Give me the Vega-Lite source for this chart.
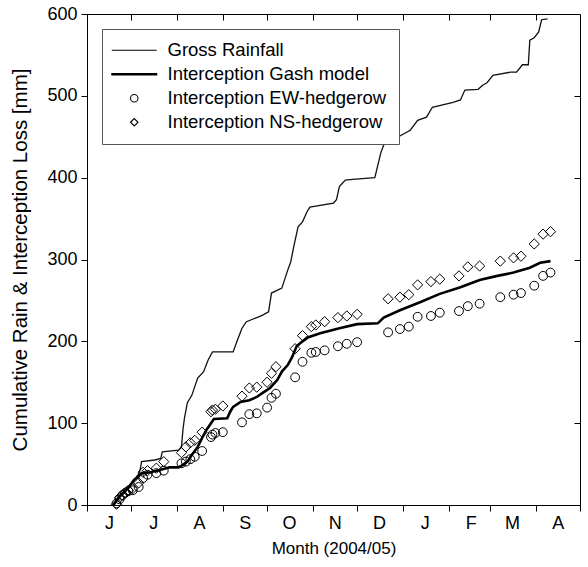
{
  "$schema": "https://vega.github.io/schema/vega-lite/v6.json",
  "width": 493,
  "height": 491,
  "autosize": {"type": "none"},
  "padding": {"left": 87, "top": 14, "right": 8, "bottom": 62},
  "background": "white",
  "data": {"values": [
    {"d":"2004-06-19","s":"Gross Rainfall","v":0},
    {"d":"2004-06-22","s":"Gross Rainfall","v":10},
    {"d":"2004-06-27","s":"Gross Rainfall","v":18},
    {"d":"2004-07-02","s":"Gross Rainfall","v":28},
    {"d":"2004-07-06","s":"Gross Rainfall","v":38},
    {"d":"2004-07-07","s":"Gross Rainfall","v":43},
    {"d":"2004-07-08","s":"Gross Rainfall","v":53},
    {"d":"2004-07-17","s":"Gross Rainfall","v":55},
    {"d":"2004-07-21","s":"Gross Rainfall","v":57},
    {"d":"2004-07-22","s":"Gross Rainfall","v":65},
    {"d":"2004-08-02","s":"Gross Rainfall","v":67},
    {"d":"2004-08-04","s":"Gross Rainfall","v":71},
    {"d":"2004-08-05","s":"Gross Rainfall","v":92},
    {"d":"2004-08-06","s":"Gross Rainfall","v":106},
    {"d":"2004-08-08","s":"Gross Rainfall","v":125},
    {"d":"2004-08-11","s":"Gross Rainfall","v":134},
    {"d":"2004-08-15","s":"Gross Rainfall","v":155},
    {"d":"2004-08-19","s":"Gross Rainfall","v":163},
    {"d":"2004-08-22","s":"Gross Rainfall","v":177},
    {"d":"2004-08-25","s":"Gross Rainfall","v":187},
    {"d":"2004-09-08","s":"Gross Rainfall","v":187},
    {"d":"2004-09-11","s":"Gross Rainfall","v":202},
    {"d":"2004-09-14","s":"Gross Rainfall","v":216},
    {"d":"2004-09-17","s":"Gross Rainfall","v":224},
    {"d":"2004-09-24","s":"Gross Rainfall","v":229},
    {"d":"2004-09-28","s":"Gross Rainfall","v":232},
    {"d":"2004-10-02","s":"Gross Rainfall","v":236},
    {"d":"2004-10-04","s":"Gross Rainfall","v":259},
    {"d":"2004-10-11","s":"Gross Rainfall","v":265},
    {"d":"2004-10-15","s":"Gross Rainfall","v":287},
    {"d":"2004-10-17","s":"Gross Rainfall","v":297},
    {"d":"2004-10-19","s":"Gross Rainfall","v":315},
    {"d":"2004-10-22","s":"Gross Rainfall","v":340},
    {"d":"2004-10-25","s":"Gross Rainfall","v":346},
    {"d":"2004-10-28","s":"Gross Rainfall","v":358},
    {"d":"2004-10-30","s":"Gross Rainfall","v":364},
    {"d":"2004-11-15","s":"Gross Rainfall","v":369},
    {"d":"2004-11-17","s":"Gross Rainfall","v":373},
    {"d":"2004-11-19","s":"Gross Rainfall","v":389},
    {"d":"2004-11-23","s":"Gross Rainfall","v":397},
    {"d":"2004-11-28","s":"Gross Rainfall","v":398},
    {"d":"2004-12-13","s":"Gross Rainfall","v":400},
    {"d":"2004-12-17","s":"Gross Rainfall","v":430},
    {"d":"2004-12-19","s":"Gross Rainfall","v":440},
    {"d":"2004-12-25","s":"Gross Rainfall","v":446},
    {"d":"2005-01-06","s":"Gross Rainfall","v":458},
    {"d":"2005-01-11","s":"Gross Rainfall","v":470},
    {"d":"2005-01-17","s":"Gross Rainfall","v":474},
    {"d":"2005-01-21","s":"Gross Rainfall","v":486},
    {"d":"2005-02-04","s":"Gross Rainfall","v":492},
    {"d":"2005-02-09","s":"Gross Rainfall","v":495},
    {"d":"2005-02-12","s":"Gross Rainfall","v":507},
    {"d":"2005-02-21","s":"Gross Rainfall","v":508},
    {"d":"2005-02-24","s":"Gross Rainfall","v":513},
    {"d":"2005-02-27","s":"Gross Rainfall","v":516},
    {"d":"2005-03-03","s":"Gross Rainfall","v":525},
    {"d":"2005-03-15","s":"Gross Rainfall","v":529},
    {"d":"2005-03-19","s":"Gross Rainfall","v":529},
    {"d":"2005-03-23","s":"Gross Rainfall","v":538},
    {"d":"2005-03-27","s":"Gross Rainfall","v":538},
    {"d":"2005-03-28","s":"Gross Rainfall","v":568},
    {"d":"2005-03-31","s":"Gross Rainfall","v":571},
    {"d":"2005-04-03","s":"Gross Rainfall","v":578},
    {"d":"2005-04-05","s":"Gross Rainfall","v":593},
    {"d":"2005-04-09","s":"Gross Rainfall","v":594},

    {"d":"2004-06-19","s":"Interception Gash model","v":0},
    {"d":"2004-06-23","s":"Interception Gash model","v":10},
    {"d":"2004-06-29","s":"Interception Gash model","v":21},
    {"d":"2004-07-03","s":"Interception Gash model","v":31},
    {"d":"2004-07-06","s":"Interception Gash model","v":35},
    {"d":"2004-07-08","s":"Interception Gash model","v":39},
    {"d":"2004-07-14","s":"Interception Gash model","v":40},
    {"d":"2004-07-21","s":"Interception Gash model","v":43},
    {"d":"2004-07-27","s":"Interception Gash model","v":46},
    {"d":"2004-08-02","s":"Interception Gash model","v":46},
    {"d":"2004-08-05","s":"Interception Gash model","v":49},
    {"d":"2004-08-08","s":"Interception Gash model","v":53},
    {"d":"2004-08-11","s":"Interception Gash model","v":61},
    {"d":"2004-08-15","s":"Interception Gash model","v":71},
    {"d":"2004-08-18","s":"Interception Gash model","v":82},
    {"d":"2004-08-21","s":"Interception Gash model","v":92},
    {"d":"2004-08-24","s":"Interception Gash model","v":100},
    {"d":"2004-08-26","s":"Interception Gash model","v":105},
    {"d":"2004-09-04","s":"Interception Gash model","v":106},
    {"d":"2004-09-06","s":"Interception Gash model","v":114},
    {"d":"2004-09-08","s":"Interception Gash model","v":120},
    {"d":"2004-09-13","s":"Interception Gash model","v":126},
    {"d":"2004-09-19","s":"Interception Gash model","v":128},
    {"d":"2004-09-24","s":"Interception Gash model","v":132},
    {"d":"2004-09-28","s":"Interception Gash model","v":137},
    {"d":"2004-10-03","s":"Interception Gash model","v":143},
    {"d":"2004-10-08","s":"Interception Gash model","v":153},
    {"d":"2004-10-11","s":"Interception Gash model","v":163},
    {"d":"2004-10-15","s":"Interception Gash model","v":171},
    {"d":"2004-10-18","s":"Interception Gash model","v":181},
    {"d":"2004-10-21","s":"Interception Gash model","v":194},
    {"d":"2004-10-25","s":"Interception Gash model","v":200},
    {"d":"2004-10-29","s":"Interception Gash model","v":205},
    {"d":"2004-11-06","s":"Interception Gash model","v":210},
    {"d":"2004-11-19","s":"Interception Gash model","v":216},
    {"d":"2004-12-01","s":"Interception Gash model","v":221},
    {"d":"2004-12-15","s":"Interception Gash model","v":222},
    {"d":"2004-12-19","s":"Interception Gash model","v":229},
    {"d":"2004-12-30","s":"Interception Gash model","v":238},
    {"d":"2005-01-13","s":"Interception Gash model","v":248},
    {"d":"2005-01-26","s":"Interception Gash model","v":258},
    {"d":"2005-02-09","s":"Interception Gash model","v":266},
    {"d":"2005-02-22","s":"Interception Gash model","v":275},
    {"d":"2005-03-06","s":"Interception Gash model","v":280},
    {"d":"2005-03-17","s":"Interception Gash model","v":284},
    {"d":"2005-03-28","s":"Interception Gash model","v":290},
    {"d":"2005-04-04","s":"Interception Gash model","v":296},
    {"d":"2005-04-11","s":"Interception Gash model","v":298},

    {"d":"2004-06-21","s":"Interception EW-hedgerow","v":2},
    {"d":"2004-06-23","s":"Interception EW-hedgerow","v":7},
    {"d":"2004-06-25","s":"Interception EW-hedgerow","v":12},
    {"d":"2004-06-27","s":"Interception EW-hedgerow","v":15},
    {"d":"2004-06-29","s":"Interception EW-hedgerow","v":17},
    {"d":"2004-07-02","s":"Interception EW-hedgerow","v":18},
    {"d":"2004-07-06","s":"Interception EW-hedgerow","v":22},
    {"d":"2004-07-09","s":"Interception EW-hedgerow","v":33},
    {"d":"2004-07-12","s":"Interception EW-hedgerow","v":37},
    {"d":"2004-07-18","s":"Interception EW-hedgerow","v":39},
    {"d":"2004-07-23","s":"Interception EW-hedgerow","v":42},
    {"d":"2004-08-04","s":"Interception EW-hedgerow","v":51},
    {"d":"2004-08-07","s":"Interception EW-hedgerow","v":53},
    {"d":"2004-08-10","s":"Interception EW-hedgerow","v":56},
    {"d":"2004-08-13","s":"Interception EW-hedgerow","v":59},
    {"d":"2004-08-18","s":"Interception EW-hedgerow","v":66},
    {"d":"2004-08-24","s":"Interception EW-hedgerow","v":83},
    {"d":"2004-08-25","s":"Interception EW-hedgerow","v":86},
    {"d":"2004-08-27","s":"Interception EW-hedgerow","v":88},
    {"d":"2004-09-01","s":"Interception EW-hedgerow","v":89},
    {"d":"2004-09-14","s":"Interception EW-hedgerow","v":101},
    {"d":"2004-09-19","s":"Interception EW-hedgerow","v":111},
    {"d":"2004-09-24","s":"Interception EW-hedgerow","v":112},
    {"d":"2004-10-01","s":"Interception EW-hedgerow","v":119},
    {"d":"2004-10-04","s":"Interception EW-hedgerow","v":131},
    {"d":"2004-10-07","s":"Interception EW-hedgerow","v":136},
    {"d":"2004-10-20","s":"Interception EW-hedgerow","v":156},
    {"d":"2004-10-25","s":"Interception EW-hedgerow","v":175},
    {"d":"2004-10-31","s":"Interception EW-hedgerow","v":186},
    {"d":"2004-11-03","s":"Interception EW-hedgerow","v":187},
    {"d":"2004-11-09","s":"Interception EW-hedgerow","v":189},
    {"d":"2004-11-18","s":"Interception EW-hedgerow","v":194},
    {"d":"2004-11-24","s":"Interception EW-hedgerow","v":197},
    {"d":"2004-12-01","s":"Interception EW-hedgerow","v":199},
    {"d":"2004-12-22","s":"Interception EW-hedgerow","v":211},
    {"d":"2004-12-30","s":"Interception EW-hedgerow","v":215},
    {"d":"2005-01-05","s":"Interception EW-hedgerow","v":218},
    {"d":"2005-01-11","s":"Interception EW-hedgerow","v":230},
    {"d":"2005-01-20","s":"Interception EW-hedgerow","v":231},
    {"d":"2005-01-26","s":"Interception EW-hedgerow","v":235},
    {"d":"2005-02-08","s":"Interception EW-hedgerow","v":237},
    {"d":"2005-02-14","s":"Interception EW-hedgerow","v":243},
    {"d":"2005-02-22","s":"Interception EW-hedgerow","v":246},
    {"d":"2005-03-08","s":"Interception EW-hedgerow","v":254},
    {"d":"2005-03-17","s":"Interception EW-hedgerow","v":257},
    {"d":"2005-03-22","s":"Interception EW-hedgerow","v":259},
    {"d":"2005-03-31","s":"Interception EW-hedgerow","v":268},
    {"d":"2005-04-06","s":"Interception EW-hedgerow","v":280},
    {"d":"2005-04-11","s":"Interception EW-hedgerow","v":284},

    {"d":"2004-06-21","s":"Interception NS-hedgerow","v":1},
    {"d":"2004-06-23","s":"Interception NS-hedgerow","v":9},
    {"d":"2004-06-25","s":"Interception NS-hedgerow","v":12},
    {"d":"2004-06-27","s":"Interception NS-hedgerow","v":15},
    {"d":"2004-06-29","s":"Interception NS-hedgerow","v":18},
    {"d":"2004-07-02","s":"Interception NS-hedgerow","v":20},
    {"d":"2004-07-06","s":"Interception NS-hedgerow","v":27},
    {"d":"2004-07-09","s":"Interception NS-hedgerow","v":40},
    {"d":"2004-07-12","s":"Interception NS-hedgerow","v":42},
    {"d":"2004-07-18","s":"Interception NS-hedgerow","v":45},
    {"d":"2004-07-23","s":"Interception NS-hedgerow","v":53},
    {"d":"2004-08-04","s":"Interception NS-hedgerow","v":64},
    {"d":"2004-08-07","s":"Interception NS-hedgerow","v":71},
    {"d":"2004-08-10","s":"Interception NS-hedgerow","v":76},
    {"d":"2004-08-13","s":"Interception NS-hedgerow","v":79},
    {"d":"2004-08-18","s":"Interception NS-hedgerow","v":89},
    {"d":"2004-08-24","s":"Interception NS-hedgerow","v":114},
    {"d":"2004-08-25","s":"Interception NS-hedgerow","v":116},
    {"d":"2004-08-27","s":"Interception NS-hedgerow","v":117},
    {"d":"2004-09-01","s":"Interception NS-hedgerow","v":121},
    {"d":"2004-09-14","s":"Interception NS-hedgerow","v":133},
    {"d":"2004-09-19","s":"Interception NS-hedgerow","v":143},
    {"d":"2004-09-24","s":"Interception NS-hedgerow","v":144},
    {"d":"2004-10-01","s":"Interception NS-hedgerow","v":150},
    {"d":"2004-10-04","s":"Interception NS-hedgerow","v":161},
    {"d":"2004-10-07","s":"Interception NS-hedgerow","v":169},
    {"d":"2004-10-20","s":"Interception NS-hedgerow","v":191},
    {"d":"2004-10-25","s":"Interception NS-hedgerow","v":207},
    {"d":"2004-10-31","s":"Interception NS-hedgerow","v":218},
    {"d":"2004-11-03","s":"Interception NS-hedgerow","v":220},
    {"d":"2004-11-09","s":"Interception NS-hedgerow","v":224},
    {"d":"2004-11-18","s":"Interception NS-hedgerow","v":229},
    {"d":"2004-11-24","s":"Interception NS-hedgerow","v":231},
    {"d":"2004-12-01","s":"Interception NS-hedgerow","v":233},
    {"d":"2004-12-22","s":"Interception NS-hedgerow","v":252},
    {"d":"2004-12-30","s":"Interception NS-hedgerow","v":254},
    {"d":"2005-01-05","s":"Interception NS-hedgerow","v":257},
    {"d":"2005-01-11","s":"Interception NS-hedgerow","v":269},
    {"d":"2005-01-20","s":"Interception NS-hedgerow","v":273},
    {"d":"2005-01-26","s":"Interception NS-hedgerow","v":276},
    {"d":"2005-02-08","s":"Interception NS-hedgerow","v":280},
    {"d":"2005-02-14","s":"Interception NS-hedgerow","v":291},
    {"d":"2005-02-22","s":"Interception NS-hedgerow","v":292},
    {"d":"2005-03-08","s":"Interception NS-hedgerow","v":298},
    {"d":"2005-03-17","s":"Interception NS-hedgerow","v":302},
    {"d":"2005-03-22","s":"Interception NS-hedgerow","v":304},
    {"d":"2005-03-31","s":"Interception NS-hedgerow","v":319},
    {"d":"2005-04-06","s":"Interception NS-hedgerow","v":331},
    {"d":"2005-04-11","s":"Interception NS-hedgerow","v":334}
  ]},
  "layer": [
    {
      "transform": [{"filter": {"field": "s", "equal": "Gross Rainfall"}}],
      "mark": {"type": "line", "color": "#111111", "strokeWidth": 1.3},
      "encoding": {
        "x": {"field": "d", "type": "temporal",
          "scale": {"type": "utc", "domain": [{"year": 2004, "month": 6, "date": 1, "utc": true}, {"year": 2005, "month": 5, "date": 1, "utc": true}]},
          "axis": {"orient": "bottom", "title": "Month (2004/05)", "titleFontSize": 17, "tickSize": 6, "labelPadding": 3, "titlePadding": 8, "labelOffset": 22, "labelFlush": false, "labelOverlap": false, "labelAlign": "center",
            "values": [
              {"year": 2004, "month": 6, "date": 1, "utc": true},
              {"year": 2004, "month": 7, "date": 1, "utc": true},
              {"year": 2004, "month": 8, "date": 1, "utc": true},
              {"year": 2004, "month": 9, "date": 1, "utc": true},
              {"year": 2004, "month": 10, "date": 1, "utc": true},
              {"year": 2004, "month": 11, "date": 1, "utc": true},
              {"year": 2004, "month": 12, "date": 1, "utc": true},
              {"year": 2005, "month": 1, "date": 1, "utc": true},
              {"year": 2005, "month": 2, "date": 1, "utc": true},
              {"year": 2005, "month": 3, "date": 1, "utc": true},
              {"year": 2005, "month": 4, "date": 1, "utc": true},
              {"year": 2005, "month": 5, "date": 1, "utc": true}
            ],
            "labelExpr": "utcmonth(datum.value) == 4 ? '' : slice('JFMAMJJASOND', utcmonth(datum.value), utcmonth(datum.value) + 1)"}},
        "y": {"field": "v", "type": "quantitative",
          "scale": {"domain": [0, 600], "nice": false},
          "axis": {"orient": "left", "title": "Cumulative Rain & Interception Loss [mm]", "titleFontSize": 20.5, "values": [0, 100, 200, 300, 400, 500, 600], "tickSize": 6, "labelPadding": 4, "titlePadding": 16}}
      }
    },
    {
      "transform": [{"filter": {"field": "s", "equal": "Interception Gash model"}}],
      "mark": {"type": "line", "color": "black", "strokeWidth": 2.6},
      "encoding": {
        "x": {"field": "d", "type": "temporal",
          "scale": {"type": "utc", "domain": [{"year": 2004, "month": 6, "date": 1, "utc": true}, {"year": 2005, "month": 5, "date": 1, "utc": true}]},
          "axis": {"orient": "top", "title": null, "labels": false, "domain": false, "ticks": true, "tickSize": -6, "tickColor": "black", "tickWidth": 1,
            "values": [
              {"year": 2004, "month": 7, "date": 1, "utc": true},
              {"year": 2004, "month": 8, "date": 1, "utc": true},
              {"year": 2004, "month": 9, "date": 1, "utc": true},
              {"year": 2004, "month": 10, "date": 1, "utc": true},
              {"year": 2004, "month": 11, "date": 1, "utc": true},
              {"year": 2004, "month": 12, "date": 1, "utc": true},
              {"year": 2005, "month": 1, "date": 1, "utc": true},
              {"year": 2005, "month": 2, "date": 1, "utc": true},
              {"year": 2005, "month": 3, "date": 1, "utc": true},
              {"year": 2005, "month": 4, "date": 1, "utc": true}
            ]}},
        "y": {"field": "v", "type": "quantitative",
          "scale": {"domain": [0, 600], "nice": false},
          "axis": {"orient": "right", "title": null, "labels": false, "domain": false, "ticks": true, "offset": -6, "tickSize": 6, "tickColor": "black", "tickWidth": 1, "values": [100, 200, 300, 400, 500]}}
      }
    },
    {
      "transform": [{"filter": {"field": "s", "oneOf": ["Interception EW-hedgerow", "Interception NS-hedgerow"]}}],
      "mark": {"type": "point", "filled": false, "color": "black", "strokeWidth": 1, "opacity": 1},
      "encoding": {
        "x": {"field": "d", "type": "temporal",
          "scale": {"type": "utc", "domain": [{"year": 2004, "month": 6, "date": 1, "utc": true}, {"year": 2005, "month": 5, "date": 1, "utc": true}]},
          "axis": null},
        "y": {"field": "v", "type": "quantitative", "scale": {"domain": [0, 600], "nice": false}, "axis": null},
        "size": {"field": "s", "type": "nominal", "scale": {"domain": ["Interception EW-hedgerow", "Interception NS-hedgerow"], "range": [78, 105]}, "legend": null},
        "shape": {"field": "s", "type": "nominal",
          "scale": {"domain": ["Gross Rainfall", "Interception Gash model", "Interception EW-hedgerow", "Interception NS-hedgerow"],
                    "range": ["M-6,0H6", "M-6,-0.17H6V0.17H-6Z", "circle", "diamond"]},
          "legend": {"orient": "none", "legendX": 15, "legendY": 15, "title": null,
            "labelFontSize": 18.5, "labelColor": "black", "labelLimit": 400, "symbolSize": 56, "symbolStrokeColor": "black", "symbolFillColor": "transparent", "symbolStrokeWidth": 1.1,
            "strokeColor": "#555555", "fillColor": "white", "padding": 12, "rowPadding": 5, "symbolOffset": 11, "labelOffset": 24}}
      }
    }
  ],
  "resolve": {"scale": {"x": "independent", "y": "independent"}, "axis": {"x": "independent", "y": "independent"}},
  "config": {
    "font": "Liberation Sans",
    "view": {"stroke": "black", "strokeWidth": 1},
    "axis": {"grid": false, "domainColor": "black", "tickColor": "black", "labelColor": "black", "titleColor": "black",
             "labelFontSize": 18, "titleFontSize": 18, "titleFontWeight": "normal", "domainWidth": 1, "tickWidth": 1}
  }
}
